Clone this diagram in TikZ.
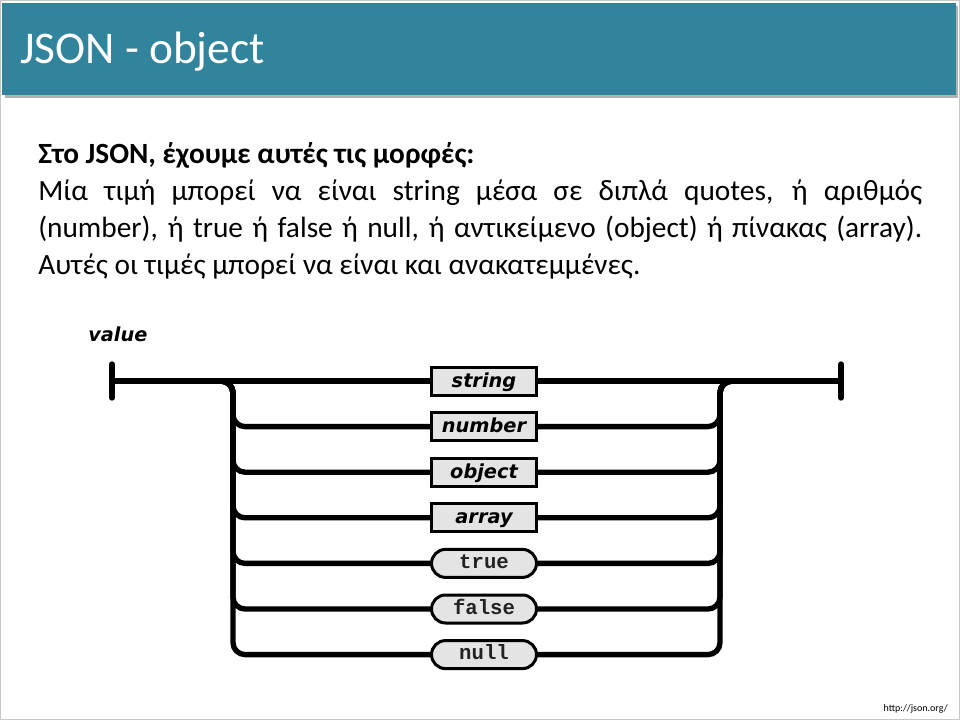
\documentclass[tikz,border=0pt]{standalone}
\usepackage{fontspec}
\setmainfont{Carlito}
\newfontfamily\railfont{DejaVu Sans}
\newfontfamily\litfont{Liberation Mono}

\definecolor{headteal}{HTML}{31849B}
\definecolor{boxgray}{HTML}{E4E4E4}
\definecolor{litink}{HTML}{222222}

\tikzset{
  rail/.style={line width=4pt, rounded corners=9pt},
  railbar/.style={line width=4pt, line cap=round},
  railbox/.style={draw, line width=2.25pt, fill=boxgray, inner sep=0pt,
    minimum width=78.75pt, minimum height=21pt,
    font=\railfont\bfseries\itshape\fontsize{14.5}{16}\selectfont,
    text height=11pt, text depth=2pt},
  litbox/.style={railbox, rounded corners=10.5pt, text=litink,
    font=\litfont\bfseries\fontsize{15.5}{17}\selectfont,
    text height=9pt, text depth=1pt},
  bodyline/.style={anchor=base west, inner sep=0pt,
    font=\fontsize{22}{26}\selectfont}
}

\begin{document}
\begin{tikzpicture}[x=0.75pt,y=-0.75pt]
  \useasboundingbox (0,0) rectangle (960,720);
  \draw[black!22, line width=0.75pt] (0.5,0.5) rectangle (959.5,719.5);

  % title band
  \fill[black!30] (5,6) rectangle (958,98.5);
  \fill[headteal] (2,3) rectangle (955.5,95.5);
  \node[anchor=base west, inner sep=0pt, text=white,
        font=\fontsize{34}{40}\selectfont] (title) at (20,64) {JSON - object};

  % body text
  \node[bodyline, font=\bfseries\fontsize{22}{26}\selectfont] (lead) at (38,164)
    {Στο JSON, έχουμε αυτές τις μορφές:};
  \node[bodyline] (para1) at (38,201)
    {\makebox[663pt][s]{Μία τιμή μπορεί να είναι string μέσα σε διπλά quotes, ή αριθμός}};
  \node[bodyline] (para2) at (38,238)
    {\makebox[663pt][s]{(number), ή true ή false ή null, ή αντικείμενο (object) ή πίνακας (array).}};
  \node[bodyline] (para3) at (38,275)
    {Αυτές οι τιμές μπορεί να είναι και ανακατεμμένες.};

  % railroad diagram for "value"
  \node[anchor=base west, inner sep=0pt,
        font=\railfont\bfseries\itshape\fontsize{14.5}{16}\selectfont] (caption) at (88,341) {value};

  \node[railbox] (vstring) at (484,381) {string};
  \node[railbox] (vnumber) at (484,426.6) {number};
  \node[railbox] (vobject) at (484,472.2) {object};
  \node[railbox] (varray)  at (484,517.8) {array};
  \node[litbox]  (vtrue)   at (484,563.4) {true};
  \node[litbox]  (vfalse)  at (484,609) {false};
  \node[litbox]  (vnull)   at (484,654.6) {null};

  \coordinate (start)  at (112,381);
  \coordinate (finish) at (841,381);
  \coordinate (lsplit) at (219,381);
  \coordinate (ltop)   at (233,381);
  \coordinate (rtop)   at (720,381);
  \coordinate (rjoin)  at (734,381);

  \draw[railbar] (start) ++(0,-17) -- ++(0,34);
  \draw[railbar] (finish) ++(0,-17) -- ++(0,34);
  \draw[rail] (start) -- (vstring.west);
  \draw[rail] (vstring.east) -- (finish);

  \foreach \b in {vnumber,vobject,varray,vtrue,vfalse,vnull}{
    \draw[rail] (lsplit) -- (ltop) |- (\b.west);
    \draw[rail] (\b.east) -| (rtop) -- (rjoin);
  }

  % source note
  \node[anchor=base east, inner sep=0pt, font=\fontsize{7.5}{9}\selectfont] (source) at (948,711) {http://json.org/};
\end{tikzpicture}
\end{document}
